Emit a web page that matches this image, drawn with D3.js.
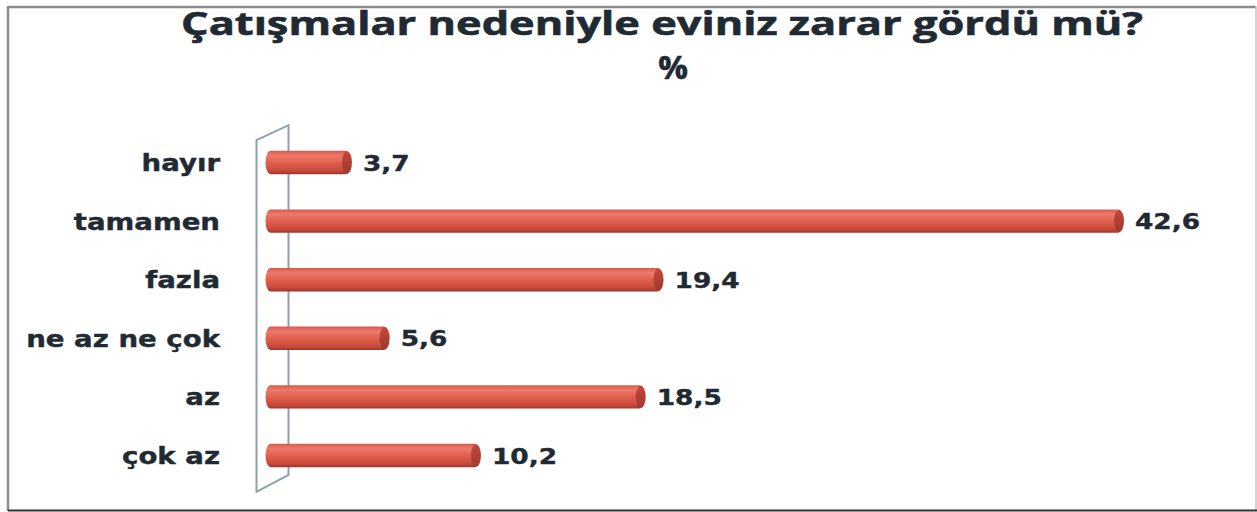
<!DOCTYPE html>
<html>
<head>
<meta charset="utf-8">
<script src="https://cdn.jsdelivr.net/npm/d3@7"></script>
<style>
  body { margin: 0; background: #fff; }
  svg { display: block; }
</style>
</head>
<body>
<svg id="chart" width="1257" height="512"></svg>
<script>
// data
var categories = ["hayır", "tamamen", "fazla", "ne az ne çok", "az", "çok az"];
var values = [3.7, 42.6, 19.4, 5.6, 18.5, 10.2];
var valueLabels = ["3,7", "42,6", "19,4", "5,6", "18,5", "10,2"];
var titleLine1 = "Çatışmalar nedeniyle eviniz zarar gördü mü?";
var titleLine2 = "%";

var svg = d3.select("#chart");
var ink = "#1f2a33";

// outer frame
svg.append("line").attr("x1", 8).attr("y1", 7).attr("x2", 1256).attr("y2", 7)
  .attr("stroke", "#8c8c8c").attr("stroke-width", 2.5);
svg.append("line").attr("x1", 8).attr("y1", 6).attr("x2", 8).attr("y2", 511)
  .attr("stroke", "#8c8c8c").attr("stroke-width", 2.5);
svg.append("line").attr("x1", 1256).attr("y1", 6).attr("x2", 1256).attr("y2", 511)
  .attr("stroke", "#c4c4c4").attr("stroke-width", 1.5);
svg.append("line").attr("x1", 8).attr("y1", 510.5).attr("x2", 1257).attr("y2", 510.5)
  .attr("stroke", "#333").attr("stroke-width", 2);

// title
svg.append("text")
  .attr("x", 662).attr("y", 35)
  .attr("text-anchor", "middle")
  .attr("textLength", 962).attr("lengthAdjust", "spacingAndGlyphs")
  .style("font-family", "'Open Sans', sans-serif")
  .style("font-weight", 700).style("font-size", "33px")
  .attr("fill", ink).attr("stroke", ink).attr("stroke-width", 0.6)
  .text(titleLine1);
svg.append("text")
  .attr("x", 673).attr("y", 79)
  .attr("text-anchor", "middle")
  .style("font-family", "'Open Sans', sans-serif")
  .style("font-weight", 700).style("font-size", "33px")
  .attr("fill", ink).attr("stroke", ink).attr("stroke-width", 0.6)
  .text(titleLine2);

// scales
var x = d3.scaleLinear().domain([0, 42.6]).range([277.5, 1123]);
var y = d3.scaleBand().domain(categories).range([133.2, 484.8])
  .paddingInner(0.6).paddingOuter(0.3);
var depth = 12;

// side wall (3d floor of category axis)
var yTop = y.range()[0], yBot = y.range()[1];
var wall = [
  [x(0) - 21, yTop + 7],
  [x(0) + 11, yTop - 8],
  [x(0) + 11, yBot - 10],
  [x(0) - 21, yBot + 7]
];
svg.append("path")
  .attr("d", d3.line()(wall) + "Z")
  .attr("fill", "none")
  .attr("stroke", "#8fa0ad")
  .attr("stroke-width", 2);

// gradients
var defs = svg.append("defs");
var g = defs.append("linearGradient").attr("id", "barGrad")
  .attr("x1", 0).attr("y1", 0).attr("x2", 0).attr("y2", 1);
g.append("stop").attr("offset", "0%").attr("stop-color", "#d9574a");
g.append("stop").attr("offset", "20%").attr("stop-color", "#ec7a6c");
g.append("stop").attr("offset", "50%").attr("stop-color", "#e1604f");
g.append("stop").attr("offset", "85%").attr("stop-color", "#c8493b");
g.append("stop").attr("offset", "100%").attr("stop-color", "#9b352c");
var gc = defs.append("linearGradient").attr("id", "capGrad")
  .attr("x1", 0).attr("y1", 0).attr("x2", 0).attr("y2", 1);
gc.append("stop").attr("offset", "0%").attr("stop-color", "#c4463b");
gc.append("stop").attr("offset", "100%").attr("stop-color", "#a0392f");

// bars
var bars = svg.selectAll("g.bar").data(categories).enter().append("g").attr("class", "bar");
var bh = y.bandwidth();
bars.append("rect")
  .attr("x", x(0) - depth)
  .attr("y", function(d) { return y(d); })
  .attr("width", function(d, i) { return x(values[i]) - x(0) + depth; })
  .attr("height", bh)
  .attr("rx", 5).attr("ry", bh / 2)
  .attr("fill", "url(#barGrad)");
bars.append("ellipse")
  .attr("cx", function(d, i) { return x(values[i]) - 4; })
  .attr("cy", function(d) { return y(d) + bh / 2; })
  .attr("rx", 5).attr("ry", bh / 2 - 0.5)
  .attr("fill", "url(#capGrad)");

// value labels
bars.append("text")
  .attr("transform", function(d, i) {
    return "translate(" + (x(values[i]) + 12) + "," + (y(d) + bh / 2 + 8) + ") scale(1.2,1)";
  })
  .style("font-family", "'DejaVu Sans', sans-serif")
  .style("font-weight", 700).style("font-size", "22px")
  .attr("fill", ink).attr("stroke", ink).attr("stroke-width", 0.4)
  .text(function(d, i) { return valueLabels[i]; });

// category labels
bars.append("text")
  .attr("transform", function(d) {
    return "translate(220," + (y(d) + bh / 2 + 8.5) + ") scale(1.2,1)";
  })
  .attr("text-anchor", "end")
  .style("font-family", "'DejaVu Sans', sans-serif")
  .style("font-weight", 700).style("font-size", "23px")
  .attr("fill", ink).attr("stroke", ink).attr("stroke-width", 0.4)
  .text(function(d) { return d; });
</script>
</body>
</html>
